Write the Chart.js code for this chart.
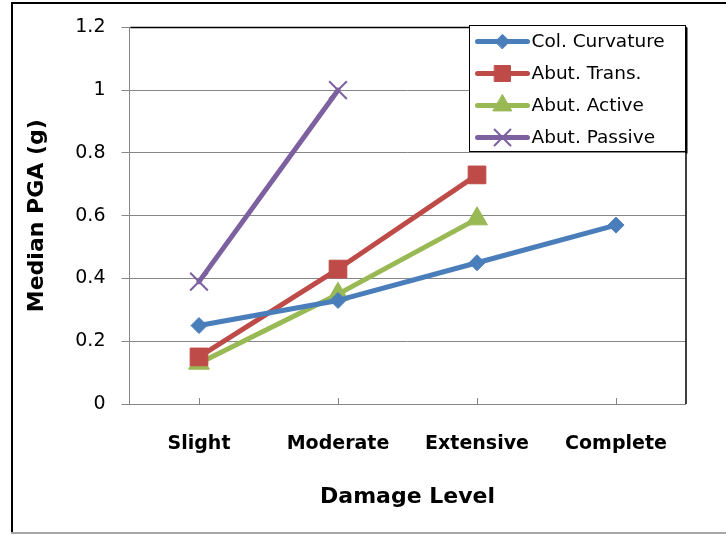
<!DOCTYPE html>
<html>
<head>
<meta charset="utf-8">
<script src="https://cdn.jsdelivr.net/npm/chart.js@4"></script>
<style>
  html, body { margin: 0; padding: 0; background: #fff; }
  canvas { display: block; }
</style>
</head>
<body>
<canvas id="chart" width="726" height="535"></canvas>
<script>
// damage levels on the x axis
const damageLevels = ['Slight', 'Moderate', 'Extensive', 'Complete'];

// median PGA (g) for each damage level, null where a series stops
const colCurvature = [0.25, 0.33, 0.45, 0.57];
const abutTrans = [0.15, 0.43, 0.73, null];
const abutActive = [0.13, 0.35, 0.59, null];
const abutPassive = [0.39, 1.0, null, null];

// y axis ticks
const yTicks = [0, 0.2, 0.4, 0.6, 0.8, 1, 1.2];

const FONT = '"DejaVu Sans", sans-serif';
const GRID = '#868686';

// series look, Excel 2007 style
function series(label, data, color, style, radius, pbw) {
    return {
        label: label,
        data: data,
        borderColor: color,
        backgroundColor: color,
        borderWidth: 5,
        borderCapStyle: 'round',
        borderJoinStyle: 'round',
        pointStyle: style,
        pointRadius: radius,
        pointHoverRadius: radius,
        pointBorderColor: color,
        pointBackgroundColor: color,
        pointBorderWidth: pbw,
        tension: 0,
        spanGaps: false
    };
}

// outer frame, plot border, inward x ticks and the legend box
const decorations = {
    id: 'decorations',
    beforeDraw(chart) {
        const ctx = chart.ctx;
        ctx.save();
        ctx.fillStyle = '#fff';
        ctx.fillRect(0, 0, chart.width, chart.height);
        ctx.fillStyle = '#000';
        ctx.fillRect(11, 2, 2, 531);
        ctx.fillRect(11, 2, chart.width - 11, 2);
        ctx.fillStyle = '#a6a6a6';
        ctx.fillRect(11, 532, chart.width - 11, 2);
        ctx.restore();
    },
    beforeDatasetsDraw(chart) {
        const { ctx, chartArea: a, scales: { x } } = chart;
        ctx.save();
        ctx.strokeStyle = '#000';
        ctx.lineWidth = 1.5;
        ctx.beginPath();
        ctx.moveTo(Math.round(a.left) + 0.5, Math.round(a.top) + 0.5);
        ctx.lineTo(Math.round(a.right), Math.round(a.top) + 0.5);
        ctx.lineTo(Math.round(a.right), Math.round(a.bottom));
        ctx.stroke();
        // tick marks point into the plot
        ctx.strokeStyle = GRID;
        ctx.lineWidth = 1;
        x.ticks.forEach((t, i) => {
            const px = Math.round(x.getPixelForTick(i)) + 0.5;
            ctx.beginPath();
            ctx.moveTo(px, a.bottom - 6);
            ctx.lineTo(px, a.bottom);
            ctx.stroke();
        });
        ctx.restore();
    },
    afterDraw(chart) {
        const ctx = chart.ctx;
        const bx = 469.5, by = 25.5, bw = 216, bh = 126;
        ctx.save();
        ctx.fillStyle = '#fff';
        ctx.fillRect(bx, by, bw, bh);
        ctx.fillStyle = '#000';
        ctx.fillRect(bx + bw, by + 2, 2, bh);
        ctx.strokeStyle = '#000';
        ctx.lineWidth = 1;
        ctx.strokeRect(bx, by, bw, bh);
        chart.data.datasets.forEach((ds, i) => {
            const y = by + 16 + i * 32;
            ctx.strokeStyle = ds.borderColor;
            ctx.lineWidth = 5;
            ctx.lineCap = 'round';
            ctx.beginPath();
            ctx.moveTo(bx + 8, y);
            ctx.lineTo(bx + 58, y);
            ctx.stroke();
            ctx.fillStyle = ds.pointBackgroundColor;
            ctx.strokeStyle = ds.pointBorderColor;
            ctx.lineWidth = ds.pointBorderWidth;
            Chart.helpers.drawPoint(ctx, {
                pointStyle: ds.pointStyle,
                radius: ds.pointRadius * 0.9,
                rotation: 0,
                borderWidth: ds.pointBorderWidth
            }, bx + 33, y);
            ctx.fillStyle = '#000';
            ctx.font = '18.5px ' + FONT;
            ctx.textAlign = 'left';
            ctx.textBaseline = 'middle';
            ctx.fillText(ds.label, bx + 62, y + 1);
        });
        ctx.restore();
    }
};

new Chart(document.getElementById('chart'), {
    type: 'line',
    data: {
        labels: damageLevels,
        datasets: [
            series('Col. Curvature', colCurvature, '#4A7EBB', 'rectRot', 8, 1),
            series('Abut. Trans.', abutTrans, '#BE4B48', 'rect', 12.5, 1),
            series('Abut. Active', abutActive, '#98B954', 'triangle', 12, 1),
            series('Abut. Passive', abutPassive, '#7D60A0', 'crossRot', 12.5, 2)
        ]
    },
    options: {
        responsive: false,
        animation: false,
        devicePixelRatio: 1,
        layout: { padding: { left: 14, right: 40.5, top: 26, bottom: 4 } },
        plugins: {
            legend: { display: false },
            tooltip: { enabled: false }
        },
        scales: {
            x: {
                type: 'category',
                offset: true,
                grid: { display: true, drawOnChartArea: false, drawTicks: false, offset: false },
                border: { display: true, color: GRID, width: 1 },
                ticks: {
                    color: '#000',
                    padding: 29,
                    maxRotation: 0,
                    font: { family: FONT, size: 19, weight: 'bold' }
                },
                title: {
                    display: true,
                    text: 'Damage Level',
                    color: '#000',
                    font: { family: FONT, size: 22, weight: 'bold' },
                    padding: { top: 0, bottom: 21 }
                },
                afterFit(scale) { scale.height = 127; }
            },
            y: {
                min: 0,
                max: 1.2,
                afterBuildTicks(scale) {
                    scale.ticks = yTicks.map(v => ({ value: v }));
                },
                grid: { color: GRID, lineWidth: 1, tickLength: 8, drawTicks: true },
                border: { display: true, color: GRID, width: 1 },
                ticks: {
                    color: '#000',
                    padding: 16,
                    font: { family: FONT, size: 19 },
                    callback: v => String(Math.round(v * 10) / 10)
                },
                title: {
                    display: true,
                    text: 'Median PGA (g)',
                    color: '#000',
                    font: { family: FONT, size: 22, weight: 'bold' },
                    padding: { top: 10, bottom: 0 }
                },
                afterFit(scale) { scale.width = 115.5; }
            }
        }
    },
    plugins: [decorations]
});
</script>
</body>
</html>
